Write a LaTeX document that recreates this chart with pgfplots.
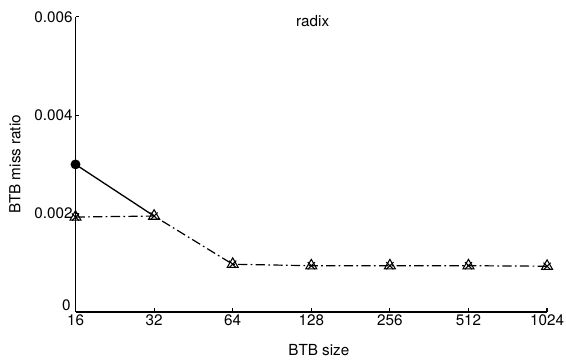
\documentclass[border=0pt]{standalone}
\usepackage{fontspec}
\setmainfont{TeX Gyre Heros}
\usepackage{pgfplots}
\pgfplotsset{compat=1.18}
\begin{document}
\fontsize{11.5}{13}\selectfont
\begin{tikzpicture}
\begin{axis}[
  width=356pt, height=222.75pt, scale only axis,
  axis x line=bottom, axis y line=left,
  axis line style={-, line width=1pt},
  tick align=inside, major tick length=3pt,
  tick style={line width=0.9pt, black},
  xmin=0, xmax=6, ymin=0, ymax=0.006,
  scaled y ticks=false,
  xtick={0,1,2,3,4,5,6},
  xticklabels={16,32,64,128,256,512,1024},
  ytick={0,0.002,0.004,0.006},
  yticklabels={,0.002,0.004,0.006},
  /pgf/number format/assume math mode=true,
  xticklabel style={font=\fontsize{11.5}{13}\selectfont, inner sep=1.5pt},
  yticklabel style={font=\fontsize{11.5}{13}\selectfont, inner sep=2pt},
  xlabel={BTB size}, ylabel={BTB miss ratio},
  every axis x label/.style={at={(rel axis cs:0.516,0)}, yshift=-28.5pt, anchor=center, font=\fontsize{11.5}{13}\selectfont},
  every axis y label/.style={at={(rel axis cs:0,0.5)}, xshift=-45.75pt, rotate=90, anchor=center, font=\fontsize{11.5}{13}\selectfont},
  clip=false,
]
\path (rel axis cs:0,0) ++(-57pt,-36pt) (rel axis cs:1,1) ++(11.25pt,12.75pt);
\node[anchor=south east, inner sep=0pt, xshift=-3.5pt, yshift=1pt, font=\fontsize{11.5}{13}\selectfont] at (rel axis cs:0,0) {0};
\addplot[black, line width=1pt, mark=*, mark size=3.2pt, mark indices={1}] coordinates {(0,0.0030) (1,0.00195)};
\addplot[black, line width=0.9pt, dash pattern=on 7pt off 2.5pt on 1.3pt off 2.5pt, mark=triangle, mark size=4.8pt, mark options={solid, line width=0.8pt}] coordinates {
(0,0.00193) (1,0.00195) (2,0.00097) (3,0.00094) (4,0.00094) (5,0.00094) (6,0.00093)};
\addplot[black, only marks, mark=x, mark size=3.8pt, mark options={line width=0.8pt}] coordinates {
(0,0.00193) (1,0.00195) (2,0.00097) (3,0.00094) (4,0.00094) (5,0.00094) (6,0.00093)};
\node[font=\fontsize{11.5}{13}\selectfont] at (rel axis cs:0.503,0.987) {radix};
\end{axis}
\end{tikzpicture}
\end{document}
